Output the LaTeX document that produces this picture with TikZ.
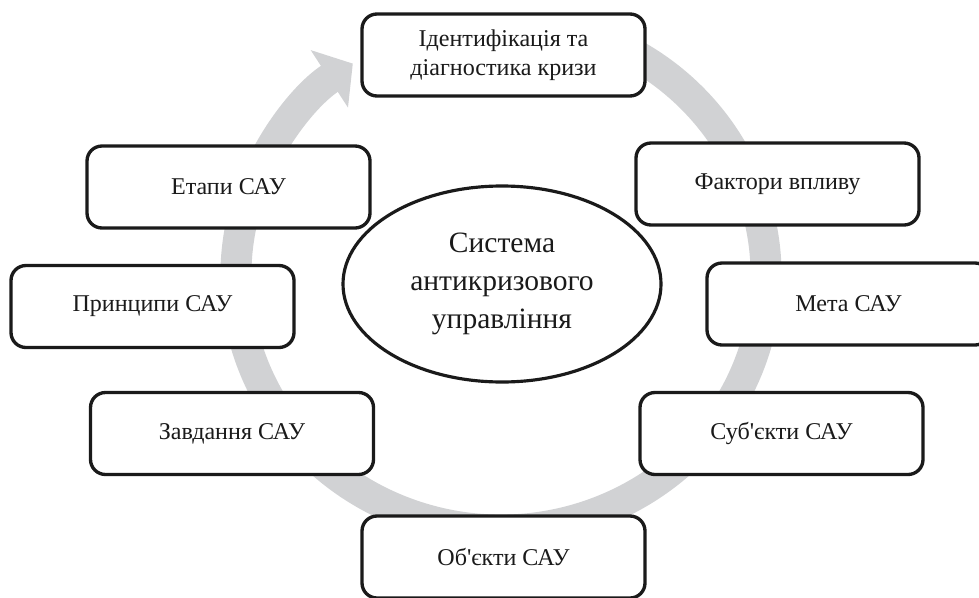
\documentclass[tikz,border=0pt]{standalone}
\usepackage{fontspec}
\newfontfamily\plainserif{Liberation Serif}
\usetikzlibrary{arrows.meta,calc,shapes.geometric}
\definecolor{ink}{HTML}{1A1A1A}
\definecolor{ring}{HTML}{D1D2D4}

\begin{document}
\begin{tikzpicture}[
  font=\plainserif\fontsize{13.7}{16.2}\selectfont,
  item/.style={draw=ink,fill=white,text=ink,line width=1.9pt,rounded corners=0.3cm,minimum width=5.66cm,minimum height=1.64cm,inner sep=1pt,align=center},
  hub/.style={ellipse,draw=ink,fill=white,text=ink,line width=1.8pt,minimum width=6.36cm,minimum height=3.92cm,inner sep=0pt,align=center,font=\plainserif\fontsize{16.8}{21.6}\selectfont},
  >={Triangle[width=1.34cm,length=0.56cm]}
]
\useasboundingbox (0,0) rectangle (19.58,11.94);
% the cycle
\coordinate (c) at (10.02,6.44);
\draw[ring,line width=0.62cm,->] ($(c)+(70:5.3 and 5.1)$)
  arc[start angle=70,end angle=-236,x radius=5.3,y radius=5.1];
% the stages
\node[item] (ident) at (10.07,10.84) {Ідентифікація та\\діагностика кризи};
\node[item] (fact) at (15.55,8.26) {Фактори впливу};
\node[item] (meta) at (16.97,5.86) {Мета САУ};
\node[item] (subj) at (15.63,3.27) {Суб'єкти САУ};
\node[item] (obj) at (10.07,0.80) {Об'єкти САУ};
\node[item] (task) at (4.64,3.27) {Завдання САУ};
\node[item] (princ) at (3.05,5.81) {Принципи САУ};
\node[item] (stage) at (4.57,8.20) {Етапи САУ};
% the centre
\node[hub] (sys) at (10.04,6.26) {Система\\антикризового\\управління};
\end{tikzpicture}
\end{document}
